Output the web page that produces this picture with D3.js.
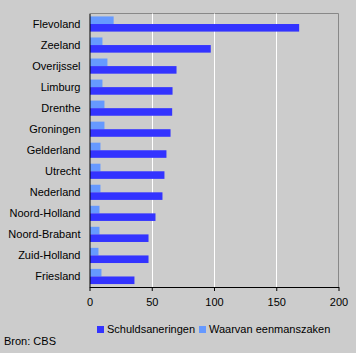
<!DOCTYPE html>
<html>
<head>
<meta charset="utf-8">
<script src="https://cdn.jsdelivr.net/npm/d3@7"></script>
<style>
  body { margin: 0; background: #cccccc; }
  svg { display: block; }
</style>
</head>
<body>
<div id="chart"></div>
<script>
// Data
const provinces = ['Flevoland', 'Zeeland', 'Overijssel', 'Limburg', 'Drenthe', 'Groningen',
  'Gelderland', 'Utrecht', 'Nederland', 'Noord-Holland', 'Noord-Brabant', 'Zuid-Holland', 'Friesland'];
const schuldsaneringen = [168, 97, 69.5, 66.3, 66, 64.7, 61.4, 59.8, 58.2, 52.6, 47, 47, 35.7];
const eenmanszaken = [19, 10, 14, 10, 11.6, 11.6, 8.4, 8.4, 8.4, 7.6, 7.6, 6.8, 9.2];
const xTicks = [0, 50, 100, 150, 200];

const width = 356;
const height = 353;
const margin = {top: 13.5, right: 17.5, bottom: 66, left: 89.5};

const svg = d3.select('#chart')
  .append('svg')
  .attr('width', width)
  .attr('height', height)
  .style('font-family', '"Liberation Sans", Arial, sans-serif')
  .style('font-size', '11px');

svg.append('rect')
  .attr('width', width)
  .attr('height', height)
  .attr('fill', '#cccccc');

const x = d3.scaleLinear()
  .domain([0, 200])
  .range([margin.left, width - margin.right]);

const y = d3.scaleBand()
  .domain(provinces)
  .range([margin.top, height - margin.bottom])
  .paddingInner(0.28)
  .paddingOuter(0.14);

const sub = d3.scaleBand()
  .domain(['eenmanszaken', 'schuldsaneringen'])
  .range([0, y.bandwidth()])
  .padding(0);

// plot frame (top and right)
svg.append('path')
  .attr('d', `M${x(0)},${margin.top}H${x(200)}V${height - margin.bottom}`)
  .attr('fill', 'none')
  .attr('stroke', '#888888');

// gridlines
svg.append('g')
  .selectAll('line')
  .data(xTicks.filter(d => d > 0 && d < 200))
  .join('line')
  .attr('x1', d => Math.round(x(d)) + 0.5)
  .attr('x2', d => Math.round(x(d)) + 0.5)
  .attr('y1', margin.top)
  .attr('y2', height - margin.bottom)
  .attr('stroke', '#ffffff');

// bars
const rows = svg.append('g')
  .selectAll('g')
  .data(provinces)
  .join('g')
  .attr('transform', d => `translate(0,${y(d)})`);

rows.append('rect')
  .attr('x', x(0) + 0.5)
  .attr('y', sub('eenmanszaken'))
  .attr('width', (d, i) => x(eenmanszaken[i]) - x(0))
  .attr('height', sub.bandwidth())
  .attr('fill', '#6699ff');

rows.append('rect')
  .attr('x', x(0) + 0.5)
  .attr('y', sub('schuldsaneringen'))
  .attr('width', (d, i) => x(schuldsaneringen[i]) - x(0))
  .attr('height', sub.bandwidth())
  .attr('fill', '#3333ff');

// y axis
const yAxis = svg.append('g')
  .attr('transform', `translate(${x(0)},0)`)
  .call(d3.axisLeft(y).tickSize(0).tickPadding(9));
yAxis.select('.domain').attr('stroke', '#000000');
yAxis.selectAll('text')
  .attr('fill', '#000000')
  .style('font-size', '11px')
  .style('font-family', '"Liberation Sans", Arial, sans-serif');

// x axis
const xAxis = svg.append('g')
  .attr('transform', `translate(0,${height - margin.bottom})`)
  .call(d3.axisBottom(x).tickValues(xTicks).tickSize(4).tickSizeOuter(0).tickPadding(7));
xAxis.select('.domain').attr('stroke', '#000000');
xAxis.selectAll('line').attr('stroke', '#000000');
xAxis.selectAll('text')
  .attr('fill', '#000000')
  .style('font-size', '11px')
  .style('font-family', '"Liberation Sans", Arial, sans-serif');

// legend
const legend = [
  {label: 'Schuldsaneringen', color: '#3333ff', x: 97},
  {label: 'Waarvan eenmanszaken', color: '#6699ff', x: 199}
];
const lg = svg.append('g')
  .selectAll('g')
  .data(legend)
  .join('g')
  .attr('transform', d => `translate(${d.x},326)`);
lg.append('rect')
  .attr('width', 7)
  .attr('height', 7)
  .attr('fill', d => d.color);
lg.append('text')
  .attr('x', 10)
  .attr('y', 7)
  .text(d => d.label);

// source
svg.append('text')
  .attr('x', 4)
  .attr('y', 345)
  .text('Bron: CBS');
</script>
</body>
</html>
